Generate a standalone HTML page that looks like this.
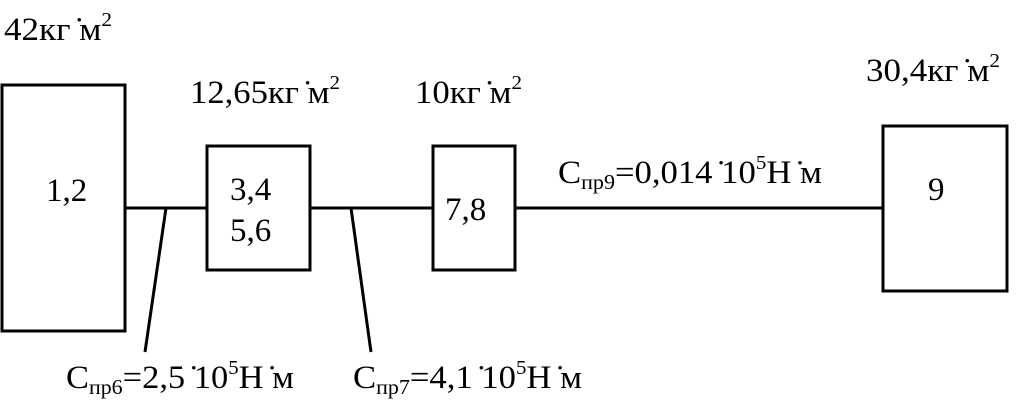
<!DOCTYPE html>
<html><head><meta charset="utf-8"><style>
html,body{margin:0;padding:0;background:#fff;width:1024px;height:414px;overflow:hidden}
text{font-family:"Liberation Serif",serif;font-size:33px;fill:#000}
</style></head><body>
<svg width="1024" height="414" xmlns="http://www.w3.org/2000/svg">
<g fill="none" stroke="#000" stroke-width="3">
<rect x="2" y="85" width="123" height="246"/>
<rect x="207" y="146" width="103" height="124"/>
<rect x="433" y="146" width="82" height="124"/>
<rect x="883" y="126" width="124" height="165"/>
<line x1="125" y1="208" x2="207" y2="208"/>
<line x1="310" y1="208" x2="433" y2="208"/>
<line x1="515" y1="208" x2="883" y2="208"/>
<line x1="166" y1="208" x2="145" y2="352"/>
<line x1="351" y1="208" x2="371" y2="352"/>
</g>
<text x="4" y="40" textLength="108" lengthAdjust="spacingAndGlyphs">42кг ̇м<tspan dy="-14" font-size="20">2</tspan></text>
<text x="190" y="103" textLength="150" lengthAdjust="spacingAndGlyphs">12,65кг ̇м<tspan dy="-14" font-size="20">2</tspan></text>
<text x="415" y="103" textLength="107" lengthAdjust="spacingAndGlyphs">10кг ̇м<tspan dy="-14" font-size="20">2</tspan></text>
<text x="866" y="81" textLength="134" lengthAdjust="spacingAndGlyphs">30,4кг ̇м<tspan dy="-14" font-size="20">2</tspan></text>
<text x="558" y="183" textLength="264" lengthAdjust="spacingAndGlyphs">С<tspan font-size="21" dy="6">пр9</tspan><tspan dy="-6">=0,014 ̇10</tspan><tspan dy="-14" font-size="20">5</tspan><tspan dy="14">Н ̇м</tspan></text>
<text x="66" y="388" textLength="228" lengthAdjust="spacingAndGlyphs">С<tspan font-size="21" dy="6">пр6</tspan><tspan dy="-6">=2,5 ̇10</tspan><tspan dy="-14" font-size="20">5</tspan><tspan dy="14">Н ̇м</tspan></text>
<text x="353" y="388" textLength="229" lengthAdjust="spacingAndGlyphs">С<tspan font-size="21" dy="6">пр7</tspan><tspan dy="-6">=4,1 ̇10</tspan><tspan dy="-14" font-size="20">5</tspan><tspan dy="14">Н ̇м</tspan></text>
<text x="46" y="201">1,2</text>
<text x="230" y="200">3,4</text>
<text x="230" y="241">5,6</text>
<text x="445" y="220">7,8</text>
<text x="928" y="200">9</text>
</svg>
</body></html>
